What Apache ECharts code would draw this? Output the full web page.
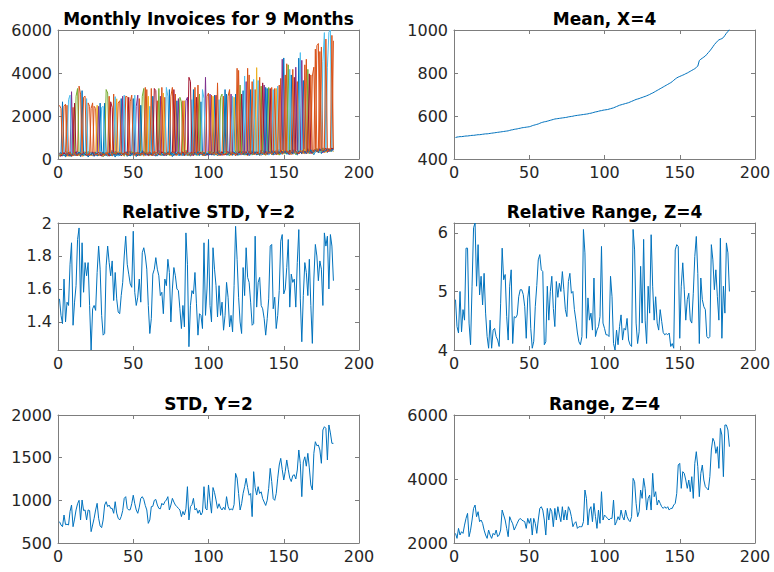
<!DOCTYPE html>
<html>
<head>
<meta charset="utf-8">
<script src="https://cdn.jsdelivr.net/npm/echarts@6/dist/echarts.min.js"></script>
<style>html,body{margin:0;padding:0;background:#fff}#c{width:774px;height:572px}</style>
</head>
<body>
<div id="c"></div>
<script>
// ---------- DATA ----------
const titles = ['Monthly Invoices for 9 Months', 'Mean, X=4', 'Relative STD, Y=2', 'Relative Range, Z=4', 'STD, Y=2', 'Range, Z=4'];
const xTicks = [0, 50, 100, 150, 200];
const yTicksInvoices = [0, 2000, 4000, 6000];
const yTicksMean = [400, 600, 800, 1000];
const yTicksRelStd = [1.4, 1.6, 1.8, 2];
const yTicksRelRange = [4, 5, 6];
const yTicksStd = [500, 1000, 1500, 2000];
const yTicksRange = [2000, 4000, 6000];

const month1 = [
210,150,2660,320,90,260,180,340,120,230,
280,140,350,200,110,3180,260,170,310,90,
190,330,240,120,280,150,210,2600,360,100,
2600,250,130,300,180,410,220,90,270,160,
340,2810,200,150,290,120,380,240,180,2810,
260,110,330,210,150,390,240,300,170,220,
180,350,2920,270,130,230,410,160,290,200,
320,140,260,380,200,110,300,250,2710,170,
240,330,150,280,420,190,260,130,310,3230,
200,370,250,160,2660,300,140,340,220,280,
360,180,290,2970,230,150,400,270,190,320,
250,3020,170,340,280,210,390,3020,160,300,
220,310,3180,180,260,410,150,330,240,370,
290,200,350,160,420,270,230,380,3280,190,
340,260,180,400,310,220,450,290,370,4700,
280,390,210,330,3910,260,440,300,180,4690,
420,230,3650,360,290,480,250,390,310,200,
330,460,280,400,250,520,380,440,300,470,
410,350,520];
const month2 = [
2500,2350,180,240,310,2500,130,270,200,2400,
160,290,230,3390,3020,120,340,200,260,2610,
2450,210,150,2450,2350,300,180,250,130,280,
190,320,260,140,230,170,3020,310,220,350,
250,170,310,200,2920,2890,140,280,230,190,
330,220,160,2810,270,190,350,240,3230,150,
200,290,140,360,230,2710,180,320,250,280,
2870,260,190,300,150,340,220,3020,280,240,
180,300,250,140,370,210,290,160,330,230,
310,190,3440,270,220,360,150,240,300,200,
260,2970,180,330,210,290,150,380,240,2920,
200,310,260,180,350,230,290,140,4220,330,
370,240,190,310,280,160,3910,250,340,210,
3230,300,220,390,170,330,260,200,310,250,
280,3330,350,190,410,240,300,3750,220,360,
320,4430,260,380,210,340,290,430,3600,250,
360,270,420,230,4640,310,390,280,3860,4270,
410,5270,5370,350,5210,460,300,420,380,500,
430,480,5500];
const month3 = [
150,230,300,180,250,120,350,200,270,160,
320,180,240,150,290,210,130,360,190,250,
260,140,310,200,170,2500,240,330,180,120,
230,290,160,350,210,130,280,240,2800,190,
300,170,240,130,360,210,270,180,320,150,
190,280,210,340,160,250,130,310,220,2920,
260,150,330,200,280,170,240,350,190,3070,
230,310,180,270,140,360,210,290,170,250,
300,160,240,2710,190,330,150,270,220,340,
170,250,310,200,360,140,280,230,190,320,
240,290,2920,180,330,200,260,150,310,230,
280,190,330,240,160,370,2870,210,300,250,
330,210,260,390,170,240,300,190,280,350,
220,4250,290,180,340,250,400,210,270,310,
380,240,310,270,3280,190,350,260,420,230,
260,340,410,290,220,380,310,250,360,300,
310,390,250,450,340,280,420,360,230,390,
450,320,400,280,470,350,510,300,430,360,
390,460,330];
const month4 = [
270,190,140,310,220,350,160,240,3130,200,
210,350,170,280,140,260,310,190,230,330,
150,260,200,330,240,180,2450,140,290,220,
320,180,250,210,300,150,270,350,190,240,
180,260,2920,310,200,340,150,230,280,170,
250,2450,2970,180,300,220,340,160,260,310,
330,200,260,150,310,240,190,2920,270,160,
190,280,230,330,260,170,350,200,310,2810,
260,190,310,230,2710,2870,180,340,150,270,
220,330,180,290,250,200,340,3800,270,160,
3020,230,320,190,270,360,210,300,160,280,
310,250,190,340,3020,170,260,330,220,380,
180,290,350,230,3600,310,200,270,390,240,
340,260,190,310,230,380,3440,280,200,350,
230,310,400,250,330,280,210,370,4640,300,
380,270,330,200,350,420,260,4270,310,240,
290,4590,360,310,240,400,330,250,420,350,
360,420,310,480,390,280,440,360,500,330,
470,380,430];
const month5 = [
120,280,220,150,190,310,240,110,330,180,
240,2920,3280,170,300,230,150,280,200,360,
300,170,260,190,330,210,140,270,240,310,
160,3230,3070,240,150,290,200,330,180,270,
210,330,180,270,240,150,310,200,350,240,
300,180,270,150,230,2920,3280,200,330,260,
170,310,230,290,180,340,3280,250,150,300,
270,200,330,160,290,240,180,310,230,360,
2870,2660,200,320,250,160,300,220,280,180,
290,230,160,3020,300,250,330,180,210,370,
200,340,250,300,180,270,330,2870,3020,190,
360,220,280,150,310,260,200,380,240,170,
3440,260,310,200,350,230,280,390,180,300,
250,340,200,300,3390,220,360,170,410,3330,
310,200,370,290,240,350,180,330,270,400,
230,300,4380,260,420,310,350,200,380,330,
400,330,280,370,310,4170,240,410,350,300,
380,500,350,420,330,440,390,470,360,420,
360,420,500];
const month6 = [
330,260,190,230,140,200,2760,2970,250,310,
170,230,300,250,190,340,210,140,2810,180,
210,300,180,240,150,330,260,190,2400,2450,
280,140,310,190,250,220,160,2900,300,130,
240,190,260,2970,180,300,220,340,150,280,
2970,300,190,240,350,170,280,220,190,340,
2450,240,310,180,260,200,330,150,290,220,
210,3330,2920,240,320,180,260,200,340,150,
330,250,180,300,140,260,210,350,2760,200,
260,150,290,340,180,3230,2810,210,330,240,
180,310,240,160,350,230,2760,200,280,340,
230,340,290,210,260,2920,180,310,350,200,
260,190,280,3860,220,340,310,180,250,3700,
300,230,3650,270,190,350,210,290,330,180,
260,370,3230,220,340,3390,280,200,310,250,
340,210,300,4170,270,390,230,360,280,410,
4950,300,370,260,410,350,290,330,400,240,
350,410,450,300,380,4530,5880,420,4270,5900,
6000,440,390];
const month7 = [
180,120,250,280,210,160,300,190,140,260,
2600,200,160,310,250,180,290,230,150,220,
240,190,330,160,210,270,300,220,150,250,
170,220,280,130,2660,2400,250,190,310,200,
290,150,210,260,330,180,2870,270,200,310,
220,260,150,300,180,330,200,270,240,170,
310,180,250,3280,3180,290,220,200,340,260,
160,240,300,200,270,310,3230,180,250,330,
210,280,330,190,240,300,3800,3600,270,160,
340,2870,220,260,310,190,250,300,170,260,
290,200,260,330,2970,240,300,180,340,210,
190,280,350,260,200,330,240,270,190,310,
300,3020,230,270,340,190,360,220,310,260,
260,320,280,210,300,3540,250,340,230,290,
3280,290,230,350,200,310,260,420,280,330,
300,360,250,410,330,220,3800,380,240,350,
350,260,410,300,380,330,3960,300,270,420,
420,350,470,390,440,360,420,500,340,450,
400,510,450];
const month8 = [
240,300,160,200,130,280,210,150,230,190,
190,260,210,330,160,240,180,300,270,140,
170,230,280,210,300,140,190,260,210,330,
250,170,200,280,140,310,190,240,160,290,
160,280,230,190,250,310,200,140,270,220,
280,200,240,170,2500,210,310,190,280,230,
220,270,180,310,200,150,260,330,210,180,
300,170,240,3230,190,270,150,310,200,260,
150,310,200,260,330,240,170,280,190,300,
250,200,340,180,270,210,300,160,260,220,
210,260,180,240,300,330,190,260,220,270,
3230,180,240,300,230,190,320,260,280,210,
240,330,200,310,190,260,240,3230,300,220,
330,180,260,240,310,200,290,3330,250,360,
290,340,250,320,230,360,300,240,350,280,
360,240,330,280,300,250,410,320,270,380,
330,280,390,340,260,370,310,430,290,350,
400,380,330,450,410,370,350,390,460,420,
380,430,470];
const month9 = [
260,220,200,2450,2550,170,230,300,180,140,
300,160,190,240,210,270,2870,2920,220,190,
180,2350,2610,280,190,230,160,310,270,200,
210,260,190,2920,320,170,300,230,250,2600,
2710,240,270,180,310,230,190,2660,2970,260,
170,310,230,260,200,280,170,3330,210,290,
240,3280,200,330,170,260,300,190,3330,240,
250,190,270,220,2920,3330,280,230,170,300,
280,200,2710,250,310,180,230,290,210,260,
3330,280,200,310,240,270,190,250,2920,3070,
240,300,210,280,190,3540,260,310,230,180,
270,230,2920,3230,190,300,250,200,320,4120,
290,210,340,250,310,4220,270,300,3600,230,
210,290,240,3800,260,310,200,230,350,270,
350,220,290,3280,260,300,3440,310,230,290,
3910,310,350,220,390,4170,280,330,300,260,
380,350,290,4380,330,260,400,3910,360,310,
5110,390,360,5000,420,380,460,5580,350,430,
420,5750,480];

const meanValues = [
500,502,503,504,504,505,506,507,507,508,
509,510,510,511,512,513,513,514,515,516,
517,517,518,519,520,521,522,523,524,525,
526,527,528,529,530,531,533,535,536,538,
539,540,542,543,545,546,547,548,549,550,
552,555,557,559,561,563,566,569,571,573,
574,576,578,580,582,584,586,587,588,589,
590,591,592,593,594,596,597,598,599,601,
602,603,604,605,606,607,608,609,610,612,
613,615,617,619,620,622,624,625,627,628,
629,630,632,634,636,638,641,644,647,650,
652,654,656,658,660,662,665,668,671,674,
677,679,681,684,686,689,691,694,697,700,
704,707,711,715,719,723,727,731,735,739,
743,747,751,755,760,766,772,777,781,784,
787,790,793,797,800,804,808,812,816,820,
826,832,858,864,869,874,879,887,895,903,
912,922,932,940,948,954,957,960,965,975,
985,993,1003];

const relStdValues = [
1.54,1.44,1.39,1.66,1.40,1.52,1.50,1.75,1.88,1.38,
1.52,1.62,1.90,1.97,1.49,1.88,1.58,1.76,1.68,1.76,
1.50,1.23,1.48,1.50,1.47,1.70,1.86,1.72,1.44,1.32,
1.33,1.74,1.86,1.76,1.68,1.77,1.53,1.70,1.54,1.46,
1.45,1.56,1.64,1.80,1.92,1.75,1.69,1.63,1.61,1.95,
1.58,1.50,1.55,1.66,1.52,1.82,1.85,1.80,1.72,1.50,
1.33,1.42,1.69,1.72,1.79,1.72,1.68,1.56,1.58,1.45,
1.66,1.62,1.78,1.70,1.40,1.60,1.73,1.68,1.60,1.59,
1.48,1.36,1.50,1.37,1.94,1.75,1.25,1.50,1.59,1.57,
1.70,1.51,1.32,1.45,1.44,1.36,1.88,1.44,1.60,1.90,
1.50,1.40,1.85,1.72,1.62,1.43,1.62,1.44,1.52,1.35,
1.44,1.64,1.55,1.37,1.44,1.34,1.62,1.98,1.78,1.55,
1.40,1.33,1.73,1.56,1.85,1.67,1.64,1.52,1.38,1.39,
1.92,1.49,1.64,1.67,1.50,1.48,1.42,1.32,1.42,1.54,
1.86,1.87,1.48,1.55,1.36,1.44,1.59,1.89,1.93,1.57,
1.60,1.73,1.90,1.49,1.69,1.64,1.66,1.49,1.76,1.96,
1.54,1.28,1.56,1.76,1.70,1.56,1.78,1.50,1.27,1.66,
1.87,1.80,1.65,1.77,1.72,1.50,1.94,1.86,1.92,1.60,
1.93,1.86,1.65];

const relRangeValues = [
4.86,4.40,4.29,5.00,4.31,4.69,4.51,5.74,5.74,4.46,
4.09,5.09,6.09,6.17,5.09,5.80,4.94,5.26,4.77,5.31,
4.63,4.23,4.03,4.51,4.03,4.34,4.37,4.23,4.17,4.06,
4.80,5.74,5.20,5.29,4.57,4.17,5.09,5.37,4.11,4.57,
4.55,4.60,4.91,5.03,5.03,4.95,4.74,4.20,4.89,5.09,
4.37,4.03,4.15,4.74,5.10,5.54,5.63,5.37,5.34,4.09,
4.14,5.09,4.51,5.00,5.26,4.71,4.40,5.17,4.90,5.14,
5.00,5.34,5.03,4.69,4.57,5.17,5.31,4.97,5.00,4.69,
4.51,4.29,4.14,4.09,4.23,6.06,5.66,4.20,4.89,4.51,
4.63,4.34,5.23,4.23,4.34,4.40,4.57,5.77,4.46,4.37,
4.26,4.26,4.23,5.26,4.91,4.11,4.00,4.34,4.09,4.40,
4.60,4.17,4.37,4.34,4.54,4.17,4.09,4.06,6.06,5.71,
4.46,4.11,4.31,5.43,4.46,5.89,4.51,4.11,5.09,4.63,
5.97,5.09,4.51,4.91,4.46,4.34,4.69,4.49,4.30,4.26,
4.28,4.26,4.29,4.06,4.11,4.03,5.71,5.80,5.77,4.20,
5.09,5.49,5.03,4.51,4.86,4.97,4.51,4.46,4.97,5.60,
5.94,5.31,4.11,5.23,4.86,4.74,4.69,4.23,4.20,4.23,
5.80,5.54,5.03,5.37,4.91,4.51,5.91,4.20,5.09,4.63,
5.83,5.66,5.00];

const stdValues = [
750,711,691,828,715,720,711,870,945,691,
780,887,960,1000,770,1004,880,887,770,887,
880,633,711,789,887,965,790,700,680,770,
945,984,926,945,906,906,848,984,850,790,
770,810,880,1023,1043,906,887,890,960,1060,
960,887,848,920,1023,1043,1010,940,887,730,
770,926,930,1000,1010,945,906,900,965,945,
984,1004,1043,887,945,1023,980,945,926,906,
887,809,870,828,900,1160,770,926,950,1023,
887,906,848,887,828,860,1160,906,887,1180,
1000,850,1150,1090,1004,906,960,910,887,920,
890,1043,930,887,900,887,950,1316,1260,1080,
887,960,1082,1160,1258,1150,1060,1080,809,1336,
1150,1062,1160,1080,1100,1020,980,940,1000,1141,
1375,1220,1020,1000,1080,1260,1414,1492,1360,1238,
1340,1473,1360,1260,1220,1290,1300,1250,1355,1590,
1430,1043,1450,1510,1400,1551,1380,1180,1121,1551,
1687,1640,1648,1590,1434,1824,1863,1844,1473,1883,
1790,1668,1668];

const rangeValues = [
2300,2145,2457,2250,2353,2300,2560,2770,2926,2197,
2400,2718,3082,3187,2822,2978,2666,2718,2614,2405,
2250,2145,2405,2249,2145,2301,2249,2405,2197,2249,
2405,3030,2874,2718,2457,2197,2822,2700,2600,2405,
2509,2614,2718,2770,2718,2690,2666,2457,2770,2614,
2770,2249,2770,2614,2301,2718,3082,3134,3030,2718,
2249,3082,2718,3082,2978,2509,3082,2718,3134,2874,
2666,3134,2718,3030,2718,3134,3030,2822,2509,2614,
2666,2457,2509,2509,2509,2666,3656,3395,2561,3030,
3134,2666,3239,2822,2457,3030,2614,3603,2718,2874,
2822,2770,2718,2770,2770,3343,2561,2666,2822,2718,
3030,2822,2718,3030,2822,2718,2666,2822,4020,3916,
3239,2822,2978,3656,3395,4020,3708,3030,3395,3499,
3030,4177,3447,3603,3187,3343,3239,3134,3082,3134,
3082,3134,3030,3082,3082,3187,3239,3551,4437,4489,
3708,4229,4177,3968,3708,3968,3603,4073,3395,4489,
4854,4385,3447,4177,4437,3968,3760,3708,3656,4073,
4906,5271,5166,4802,5010,4333,5583,5375,4073,5687,
5687,5531,5010];

// ---------- CHART ----------
const FONT = 'DejaVu Sans';
const TEXT = '#262626';
const BOX = '#7d7d7d';
const lineColors = ['#0072BD','#D95319','#EDB120','#7E2F8E','#77AC30','#4DBEEE','#A2142F','#0072BD','#D95319'];

const grids = [
  {left: 58,  top: 30,  width: 301, height: 129},
  {left: 454, top: 30,  width: 301, height: 129},
  {left: 58,  top: 223, width: 301, height: 127},
  {left: 454, top: 223, width: 301, height: 127},
  {left: 58,  top: 415, width: 301, height: 128},
  {left: 454, top: 415, width: 301, height: 128}
];
const yRanges = [
  {min: 0, max: 6000, ticks: yTicksInvoices},
  {min: 400, max: 1000, ticks: yTicksMean},
  {min: 1.23, max: 2, ticks: yTicksRelStd},
  {min: 4, max: 6.17, ticks: yTicksRelRange},
  {min: 500, max: 2000, ticks: yTicksStd},
  {min: 2000, max: 6000, ticks: yTicksRange}
];
const panelData = [
  [month1, month2, month3, month4, month5, month6, month7, month8, month9],
  [meanValues], [relStdValues], [relRangeValues], [stdValues], [rangeValues]
];

const toXY = arr => arr.map((v, k) => [k + 1, v]);
const plainLabel = v => String(+v.toFixed(4));

const xAxis = [], yAxis = [], series = [], graphic = [];
grids.forEach((g, p) => {
  const common = {
    axisLine: {show: true, onZero: false, lineStyle: {color: BOX, width: 1}},
    axisTick: {show: true, inside: true, length: 4, lineStyle: {color: BOX}},
    splitLine: {show: false}
  };
  ['bottom', 'top'].forEach((pos, j) => {
    xAxis.push(Object.assign({}, common, {
      type: 'value', gridIndex: p, position: pos, min: 0, max: 200,
      axisTick: Object.assign({}, common.axisTick, {customValues: xTicks}),
      axisLabel: {show: j === 0, customValues: xTicks, formatter: plainLabel,
                  fontFamily: FONT, fontSize: 16, color: TEXT, margin: 5}
    }));
  });
  const yr = yRanges[p];
  ['left', 'right'].forEach((pos, j) => {
    yAxis.push(Object.assign({}, common, {
      type: 'value', gridIndex: p, position: pos, min: yr.min, max: yr.max,
      axisTick: Object.assign({}, common.axisTick, {customValues: yr.ticks}),
      axisLabel: {show: j === 0, customValues: yr.ticks, formatter: plainLabel,
                  fontFamily: FONT, fontSize: 16, color: TEXT, margin: 6}
    }));
  });
  panelData[p].forEach((arr, s) => {
    series.push({
      type: 'line', xAxisIndex: 2 * p, yAxisIndex: 2 * p,
      data: toXY(arr), showSymbol: false, symbol: 'none', clip: true,
      silent: true, animation: false,
      lineStyle: {width: 1, color: p === 0 ? lineColors[s] : '#0072BD'},
      itemStyle: {color: p === 0 ? lineColors[s] : '#0072BD'}
    });
  });
  graphic.push({
    type: 'text', x: g.left + g.width / 2, y: g.top - 11,
    style: {text: titles[p], fontFamily: FONT, fontSize: 17, fontWeight: 'bold', fill: '#000',
            textAlign: 'center', textVerticalAlign: 'middle'}
  });
});

const chart = echarts.init(document.getElementById('c'), null, {renderer: 'svg', width: 774, height: 572});
chart.setOption({
  backgroundColor: '#ffffff',
  animation: false,
  grid: grids.map(g => Object.assign({show: false}, g)),
  xAxis, yAxis, series, graphic
});
</script>
</body>
</html>
